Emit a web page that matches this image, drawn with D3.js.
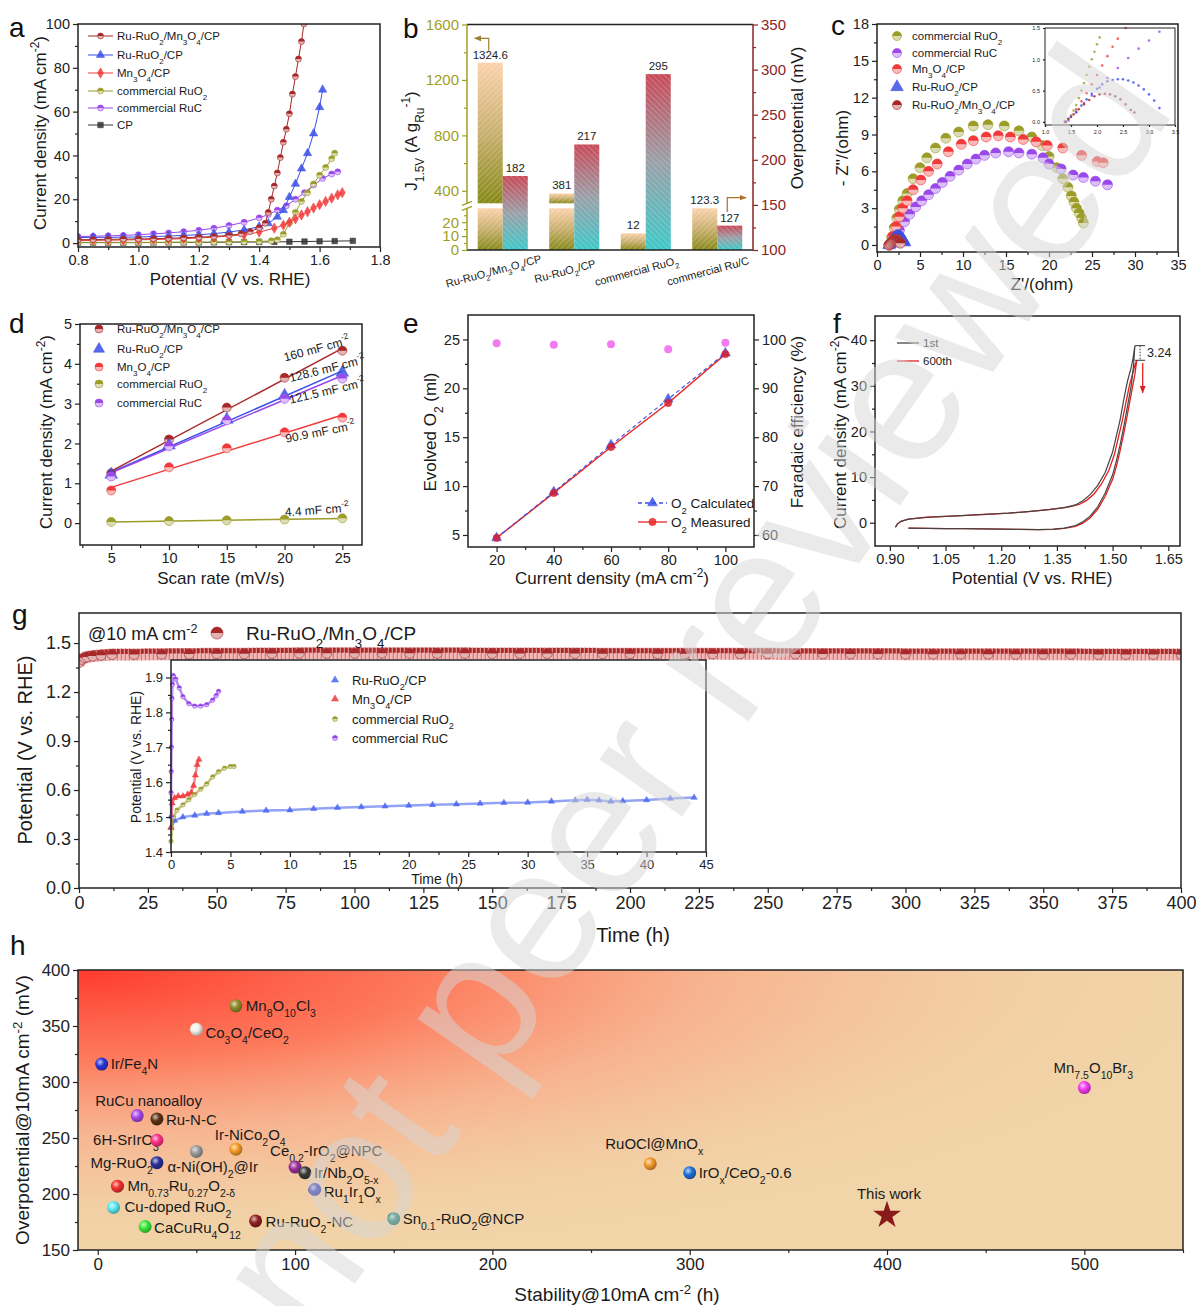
<!DOCTYPE html>
<html>
<head>
<meta charset="utf-8">
<script src="https://cdn.jsdelivr.net/npm/d3@7"></script>
<style>
  body { margin: 0; background: #fff; }
  svg { display: block; font-family: "Liberation Sans", Arial, sans-serif; }
</style>
</head>
<body>
<svg id="fig" width="1198" height="1306"></svg>
<script>
// ---------- (a) LSV curves ----------
const lsvNames = ['Ru-RuO_{2}/Mn_{3}O_{4}/CP', 'Ru-RuO_{2}/CP', 'Mn_{3}O_{4}/CP', 'commercial RuO_{2}', 'commercial RuC', 'CP'];
const lsvRuMn = [[0.80,1.5],[0.85,1.6],[0.90,1.7],[0.95,1.8],[1.00,1.9],[1.05,2.0],[1.10,2.2],[1.15,2.4],[1.20,2.7],[1.25,3.0],[1.30,3.5],[1.34,4.2],[1.37,5.2],[1.40,7.0],[1.42,9],[1.43,14],[1.44,20],[1.45,26],[1.46,32],[1.47,39],[1.48,46],[1.49,52],[1.50,59],[1.51,68],[1.52,76],[1.53,84],[1.54,92],[1.548,100]];
const lsvRu = [[0.80,2.5],[0.85,2.6],[0.90,2.6],[0.95,2.7],[1.00,2.8],[1.05,3.0],[1.10,3.2],[1.15,3.5],[1.20,3.8],[1.25,4.3],[1.30,5.0],[1.35,6.0],[1.40,7.5],[1.43,9],[1.46,12],[1.48,15],[1.50,21],[1.52,27],[1.54,34],[1.56,41],[1.58,50],[1.60,62],[1.61,70]];
const lsvMn = [[0.80,1.2],[0.85,1.2],[0.90,1.3],[0.95,1.4],[1.00,1.5],[1.05,1.6],[1.10,1.8],[1.15,2.0],[1.20,2.3],[1.25,2.7],[1.30,3.2],[1.35,3.8],[1.40,5.0],[1.45,6.8],[1.48,8.2],[1.50,9.5],[1.52,11],[1.54,12.8],[1.56,14.3],[1.58,16],[1.60,17.5],[1.62,19],[1.64,20.5],[1.66,22],[1.675,23]];
const lsvRuO2 = [[0.80,0.3],[0.85,0.3],[0.90,0.3],[0.95,0.3],[1.00,0.3],[1.05,0.3],[1.10,0.35],[1.15,0.4],[1.20,0.4],[1.25,0.45],[1.30,0.5],[1.35,0.6],[1.40,0.7],[1.44,1.0],[1.46,1.5],[1.48,4],[1.50,9],[1.52,14],[1.54,19],[1.56,23],[1.58,27],[1.60,31],[1.62,34.5],[1.64,38.5],[1.65,41]];
const lsvRuC = [[0.80,3.0],[0.85,3.1],[0.90,3.3],[0.95,3.5],[1.00,3.8],[1.05,4.2],[1.10,4.6],[1.15,5.2],[1.20,5.8],[1.25,6.8],[1.30,8.0],[1.35,9.5],[1.40,11.5],[1.43,13],[1.46,15],[1.49,17],[1.52,20],[1.55,23],[1.58,26.5],[1.61,29.5],[1.64,31.5],[1.66,32.5]];
const lsvCP = [[0.80,0.2],[0.85,0.2],[0.90,0.2],[0.95,0.2],[1.00,0.2],[1.05,0.25],[1.10,0.3],[1.15,0.3],[1.20,0.3],[1.25,0.35],[1.30,0.4],[1.35,0.45],[1.40,0.5],[1.45,0.55],[1.50,0.6],[1.55,0.7],[1.60,0.8],[1.65,0.9],[1.71,1.0]];

// ---------- (b) mass activity / overpotential ----------
const catNames = ['Ru-RuO_{2}/Mn_{3}O_{4}/CP', 'Ru-RuO_{2}/CP', 'commercial RuO_{2}', 'commercial Ru/C'];
const massAct = [1324.6, 381, 12, 123.3];
const overPot = [182, 217, 295, 127];

// ---------- (c) Nyquist ----------
const eisNames = ['commercial RuO_{2}', 'commercial RuC', 'Mn_{3}O_{4}/CP', 'Ru-RuO_{2}/CP', 'Ru-RuO_{2}/Mn_{3}O_{4}/CP'];
const eisRuO2 = [[1.4,0],[1.7,0.6],[2.0,1.4],[2.3,2.2],[2.6,2.9],[3.0,3.6],[3.5,4.2],[4.2,5.4],[5.0,6.3],[5.8,7.1],[6.8,7.9],[8.0,8.7],[9.5,9.2],[11.2,9.7],[12.9,9.8],[14.8,9.7],[16.5,9.3],[18.0,8.8],[19.2,8.1],[20.0,7.2],[20.9,6.3],[21.6,5.4],[22.2,4.7],[22.6,4.0],[22.9,3.5],[23.2,3.0],[23.5,2.6],[23.8,2.2],[24.0,1.8]];
const eisRuC = [[1.5,0],[2.0,0.5],[2.6,1.2],[3.2,1.9],[3.8,2.5],[4.5,3.1],[5.2,3.6],[6.0,4.1],[6.8,4.6],[7.6,5.1],[8.5,5.6],[9.5,6.1],[10.5,6.6],[11.5,7.0],[12.5,7.3],[13.8,7.5],[15.3,7.6],[16.5,7.5],[18.0,7.4],[19.3,7.1],[20.0,6.6],[21.4,6.2],[22.8,5.7],[24.0,5.5],[25.4,5.2],[26.8,4.9]];
const eisMn = [[1.4,0],[1.8,0.7],[2.2,1.5],[2.6,2.3],[3.0,3.0],[3.5,3.6],[4.2,4.5],[5.1,5.3],[6.0,6.0],[7.0,6.6],[8.3,7.6],[9.8,8.2],[11.2,8.5],[12.7,8.8],[14.1,8.9],[15.5,8.8],[17.0,8.6],[18.5,8.4],[19.8,8.1],[21.6,7.9],[23.8,7.3],[25.6,6.8],[26.3,6.7]];
const eisRu = [[1.4,0],[1.5,0.08],[1.6,0.16],[1.7,0.26],[1.8,0.36],[1.9,0.45],[2.0,0.53],[2.1,0.6],[2.2,0.65],[2.3,0.67],[2.4,0.68],[2.5,0.68],[2.6,0.66],[2.7,0.63],[2.8,0.58],[2.9,0.52],[3.0,0.44],[3.1,0.34],[3.2,0.22]];
const eisRuMn = [[1.38,0],[1.45,0.05],[1.55,0.12],[1.65,0.2],[1.75,0.28],[1.85,0.35],[1.95,0.41],[2.05,0.44],[2.15,0.45],[2.25,0.44],[2.35,0.41],[2.45,0.36],[2.55,0.28],[2.65,0.19],[2.72,0.15]];
const insetRuO2 = [[1.4,0],[1.45,0.05],[1.5,0.1],[1.55,0.18],[1.6,0.27],[1.65,0.38],[1.7,0.5],[1.75,0.62],[1.8,0.75],[1.85,0.88],[1.9,1.0],[1.95,1.12],[2.0,1.24],[2.05,1.35]];
const insetMn = [[1.4,0],[1.5,0.08],[1.6,0.2],[1.7,0.33],[1.8,0.46],[1.9,0.6],[2.0,0.75],[2.1,0.9],[2.2,1.05],[2.3,1.2],[2.4,1.33],[2.55,1.5]];
const insetRuC = [[1.45,0.02],[1.6,0.15],[1.75,0.3],[1.9,0.42],[2.05,0.55],[2.2,0.7],[2.4,0.86],[2.6,1.02],[2.8,1.17],[3.0,1.3],[3.2,1.44]];

// ---------- (d) double-layer capacitance ----------
const cdlNames = ['Ru-RuO_{2}/Mn_{3}O_{4}/CP', 'Ru-RuO_{2}/CP', 'Mn_{3}O_{4}/CP', 'commercial RuO_{2}', 'commercial RuC'];
const scanRate = [5, 10, 15, 20, 25];
const cdlRuMn = [1.25, 2.1, 2.9, 3.65, 4.33];
const cdlRu = [1.22, 1.95, 2.6, 3.2, 3.78];
const cdlMn = [0.82, 1.4, 1.88, 2.28, 2.65];
const cdlRuO2 = [0.03, 0.05, 0.07, 0.09, 0.12];
const cdlRuC = [1.17, 1.93, 2.58, 3.12, 3.63];
const cdlLabels = ['160 mF cm^{-2}', '128.6 mF cm^{-2}', '121.5 mF cm^{-2}', '90.9 mF cm^{-2}', '4.4 mF cm^{-2}'];

// ---------- (e) O2 evolution ----------
const feCurrent = [20, 40, 60, 80, 100];
const o2Calc = [4.7, 9.4, 14.2, 18.9, 23.6];
const o2Meas = [4.7, 9.3, 14.0, 18.5, 23.5];
const faradaic = [99.2, 98.9, 99.0, 98.0, 99.3];

// ---------- (f) CV, 1st vs 600th ----------
const cv1st = [[0.95,-1.2],[1.00,-1.25],[1.05,-1.3],[1.10,-1.3],[1.15,-1.35],[1.20,-1.4],[1.25,-1.45],[1.30,-1.5],[1.34,-1.4],[1.37,-1.2],[1.40,-0.6],[1.42,0.2],[1.44,1.5],[1.46,3.5],[1.48,6.5],[1.50,10.5],[1.51,13.5],[1.52,17],[1.53,21],[1.54,25.5],[1.55,30],[1.556,34],[1.560,38.8],[1.555,36],[1.55,34],[1.54,31],[1.53,27],[1.52,22.5],[1.51,19],[1.50,15.5],[1.48,11],[1.46,8.2],[1.44,6.2],[1.42,4.8],[1.40,3.9],[1.37,3.3],[1.33,2.9],[1.28,2.5],[1.22,2.1],[1.15,1.8],[1.08,1.5],[1.00,1.2],[0.95,0.8],[0.93,0.3],[0.92,-0.3],[0.915,-1.0]];
const cv600th = [[0.95,-1.2],[1.00,-1.25],[1.05,-1.3],[1.10,-1.3],[1.15,-1.35],[1.20,-1.4],[1.25,-1.45],[1.30,-1.5],[1.34,-1.45],[1.37,-1.25],[1.40,-0.8],[1.42,-0.1],[1.44,1.1],[1.46,3.0],[1.48,5.8],[1.50,9.5],[1.51,12.3],[1.52,15.7],[1.53,19.5],[1.54,23.8],[1.55,28.2],[1.56,32.5],[1.565,35.6],[1.56,34.5],[1.555,33],[1.545,30],[1.535,26],[1.525,22],[1.515,18.5],[1.505,15],[1.49,11.5],[1.47,8.5],[1.45,6.3],[1.43,4.9],[1.41,4.0],[1.38,3.4],[1.33,2.9],[1.28,2.5],[1.22,2.1],[1.15,1.8],[1.08,1.5],[1.00,1.2],[0.95,0.8],[0.93,0.3],[0.92,-0.3],[0.915,-1.0]];

// ---------- (g) chronopotentiometry ----------
const stabMain = [[0,1.38],[1,1.40],[2,1.41],[3,1.415],[5,1.42],[8,1.425],[12,1.43],[20,1.43],[30,1.432],[40,1.433],[50,1.435],[60,1.435],[70,1.436],[80,1.437],[90,1.437],[100,1.438],[110,1.438],[120,1.437],[130,1.437],[140,1.437],[150,1.436],[160,1.436],[170,1.436],[180,1.436],[190,1.435],[200,1.435],[210,1.435],[220,1.434],[230,1.434],[240,1.434],[250,1.434],[260,1.433],[270,1.433],[280,1.433],[290,1.433],[300,1.432],[310,1.432],[320,1.432],[330,1.432],[340,1.431],[350,1.431],[360,1.431],[370,1.43],[380,1.43],[390,1.43],[400,1.43]];
const stabInsetNames = ['Ru-RuO_{2}/CP', 'Mn_{3}O_{4}/CP', 'commercial RuO_{2}', 'commercial RuC'];
const stabRu = [[0,1.47],[0.3,1.49],[1,1.50],[2,1.505],[3,1.51],[4,1.512],[6,1.516],[8,1.519],[10,1.52],[12,1.524],[14,1.527],[16,1.529],[18,1.531],[20,1.533],[22,1.535],[24,1.537],[26,1.539],[28,1.541],[30,1.542],[32,1.545],[34,1.548],[35,1.55],[36,1.548],[37,1.545],[38,1.546],[40,1.549],[42,1.553],[44,1.556]];
const stabMn = [[0,1.47],[0.1,1.54],[0.3,1.555],[0.6,1.56],[1.0,1.56],[1.4,1.565],[1.7,1.57],[1.9,1.59],[2.05,1.62],[2.2,1.65],[2.35,1.665]];
const stabRuO2 = [[0,1.43],[0.2,1.5],[0.5,1.52],[1,1.535],[1.5,1.55],[2,1.565],[2.5,1.58],[3,1.595],[3.5,1.615],[4,1.63],[4.5,1.64],[5,1.645],[5.3,1.645]];
const stabRuC = [[0,1.5],[0,1.57],[0.02,1.63],[0.04,1.70],[0.06,1.78],[0.08,1.84],[0.12,1.88],[0.2,1.905],[0.4,1.895],[0.7,1.87],[1,1.845],[1.5,1.825],[2,1.818],[2.5,1.818],[3,1.822],[3.5,1.835],[3.8,1.848],[4,1.86]];

// ---------- (h) comparison ----------
const hNames = ['Mn_{8}O_{10}Cl_{3}', 'Co_{3}O_{4}/CeO_{2}', 'Ir/Fe_{4}N', 'RuCu nanoalloy', 'Ru-N-C', '6H-SrIrO_{3}', 'α-Ni(OH)_{2}@Ir', 'Ir-NiCo_{2}O_{4}', 'Mg-RuO_{2}', 'Ce_{0.2}-IrO_{2}@NPC', 'Ir/Nb_{2}O_{5-x}', 'Mn_{0.73}Ru_{0.27}O_{2-δ}', 'Ru_{1}Ir_{1}O_{x}', 'Cu-doped RuO_{2}', 'CaCuRu_{4}O_{12}', 'Ru-RuO_{2}-NC', 'Sn_{0.1}-RuO_{2}@NCP', 'RuOCl@MnO_{x}', 'IrO_{x}/CeO_{2}-0.6', 'Mn_{7.5}O_{10}Br_{3}'];
const hStability = [70, 50, 2, 20, 30, 30, 50, 70, 30, 100, 105, 10, 110, 8, 24, 80, 150, 280, 300, 500];
const hOverpot = [368, 347, 316, 270, 267, 248, 238, 240, 228, 224, 219, 207, 204, 188, 171, 176, 178, 227, 219, 295];
const thisWork = [400, 181];

// ---------- styles ----------
const C = { darkred: '#a8282a', blue: '#3a4fe6', red: '#f23a3a', olive: '#9c9c28', purple: '#9a48ea', black: '#333' };
const hColors = ['#8f8a2a', '#f4f0e8', '#2a36d8', '#a848e8', '#5a3312', '#ff2f86', '#9a9a9a', '#f59a22', '#2a2f9a', '#9a2f9a', '#3a3a3a', '#f2302e', '#2a30b8', '#5ae8f0', '#38e838', '#8f2020', '#14806a', '#f0982a', '#1f6fd8', '#f23af0'];
const hLabelPos = [[10,5,'start'],[9,9,'start'],[9,5,'start'],[-42,-10,'start'],[9,6,'start'],[2,5,'end'],[-29,21,'start'],[-21,-9,'start'],[-4,5,'end'],[-25,-11,'start'],[9,5,'start'],[10,5,'start'],[9,7,'start'],[11,5,'start'],[9,7,'start'],[10,6,'start'],[9,5,'start'],[-45,-15,'start'],[9,5,'start'],[9,-15,'middle']];

const FONT_TICK = 14.5, FONT_TITLE = 17;
const plain = d => d;
const svg = d3.select('#fig');
const defs = svg.append('defs');

// text with _{sub} and ^{sup}
function rich(text, str) {
  const re = /([_^])\{([^}]*)\}/g;
  let last = 0, m;
  while ((m = re.exec(str)) !== null) {
    if (m.index > last) text.append('tspan').text(str.slice(last, m.index));
    text.append('tspan').attr('baseline-shift', m[1] === '_' ? 'sub' : 'super')
      .attr('font-size', '70%').text(m[2]);
    last = re.lastIndex;
  }
  if (last < str.length) text.append('tspan').text(str.slice(last));
  return text;
}

function label(g, x, y, str, o = {}) {
  const t = g.append('text').attr('x', x).attr('y', y)
    .attr('font-size', o.size || FONT_TITLE)
    .attr('text-anchor', o.anchor || 'start')
    .attr('fill', o.color || '#1a1a1a');
  if (o.rotate) t.attr('transform', `rotate(${o.rotate},${x},${y})`);
  if (o.baseline) t.attr('dominant-baseline', o.baseline);
  return rich(t, str);
}

function drawAxis(g, axis, transform, fs, color) {
  const a = g.append('g').attr('transform', transform).call(axis);
  a.attr('font-family', null).attr('font-size', fs);
  a.select('.domain').remove();
  a.selectAll('line').attr('stroke', color || '#222').attr('stroke-width', 1.2);
  a.selectAll('text').attr('fill', color || '#222');
  return a;
}

function axesXY(g, x, y, o) {
  const [xl, xr] = x.range(), [yb, yt] = y.range();
  const fs = o.fs || FONT_TICK, ts = o.ts || 5;
  drawAxis(g, d3.axisBottom(x).tickValues(o.xt).tickFormat(o.xf || plain).tickSize(ts).tickPadding(3), `translate(0,${yb})`, fs);
  if (o.xm) drawAxis(g, d3.axisBottom(x).tickValues(o.xm).tickFormat('').tickSize(ts * 0.6), `translate(0,${yb})`, fs);
  drawAxis(g, d3.axisLeft(y).tickValues(o.yt).tickFormat(o.yf || plain).tickSize(ts).tickPadding(3), `translate(${xl},0)`, fs);
  if (o.ym) drawAxis(g, d3.axisLeft(y).tickValues(o.ym).tickFormat('').tickSize(ts * 0.6), `translate(${xl},0)`, fs);
  g.append('rect').attr('x', xl).attr('y', yt).attr('width', xr - xl).attr('height', yb - yt)
    .attr('fill', 'none').attr('stroke', '#222').attr('stroke-width', o.sw || 1.5);
}

function clip(id, x, y) {
  defs.append('clipPath').attr('id', id).append('rect')
    .attr('x', x.range()[0]).attr('y', y.range()[1])
    .attr('width', x.range()[1] - x.range()[0]).attr('height', y.range()[0] - y.range()[1]);
}

function marker(g, kind, cx, cy, r, col) {
  const light = d3.interpolateRgb(col, '#fff')(0.65);
  if (kind === 'half') {
    g.append('circle').attr('cx', cx).attr('cy', cy).attr('r', r)
      .attr('fill', light).attr('stroke', col).attr('stroke-width', 0.6);
    g.append('path').attr('d', `M${cx - r},${cy}A${r},${r} 0 0 1 ${cx + r},${cy}Z`).attr('fill', col);
  } else {
    const sym = { tri: d3.symbolTriangle, diamond: d3.symbolDiamond, square: d3.symbolSquare, circle: d3.symbolCircle }[kind];
    g.append('path').attr('transform', `translate(${cx},${cy})`)
      .attr('d', d3.symbol(sym, r * r * 3.4)())
      .attr('fill', col).attr('fill-opacity', 0.85).attr('stroke', col).attr('stroke-width', 0.5);
  }
}

const lineOf = (x, y) => d3.line().x(d => x(d[0])).y(d => y(d[1]));

function arrowDef(id, col) {
  defs.append('marker').attr('id', id).attr('viewBox', '0 0 10 10').attr('refX', 9).attr('refY', 5)
    .attr('markerWidth', 6).attr('markerHeight', 6).attr('orient', 'auto')
    .append('path').attr('d', 'M0,1L10,5L0,9Z').attr('fill', col);
}
arrowDef('arrOl', '#a08030');
arrowDef('arrBr', '#b0702a');
arrowDef('arrRed', '#e02020');

function panelLetter(x, y, s) {
  svg.append('text').attr('x', x).attr('y', y).attr('font-size', 28).attr('fill', '#111').text(s);
}

// ================= (a) =================
{
  const g = svg.append('g');
  const x = d3.scaleLinear([0.8, 1.8], [78, 380]);
  const y = d3.scaleLinear([-1.8, 100], [247, 24]);
  clip('clipA', x, y);
  const series = [lsvRuMn, lsvRu, lsvMn, lsvRuO2, lsvRuC, lsvCP];
  const cols = [C.darkred, C.blue, C.red, C.olive, C.purple, C.black];
  const kinds = ['half', 'tri', 'diamond', 'half', 'half', 'square'];
  const p = g.append('g').attr('clip-path', 'url(#clipA)');
  for (let i = series.length - 1; i >= 0; i--) {
    p.append('path').attr('d', lineOf(x, y)(series[i])).attr('fill', 'none')
      .attr('stroke', cols[i]).attr('stroke-width', 1);
    series[i].forEach(d => marker(p, kinds[i], x(d[0]), y(d[1]), 3, cols[i]));
  }
  axesXY(g, x, y, {
    xt: d3.range(0.8, 1.81, 0.2), xf: d3.format('.1f'), xm: d3.range(0.9, 1.8, 0.2),
    yt: [0, 20, 40, 60, 80, 100], ym: [10, 30, 50, 70, 90]
  });
  const rows = [36, 55, 73, 91, 108, 125];
  lsvNames.forEach((n, i) => {
    g.append('line').attr('x1', 88).attr('x2', 113).attr('y1', rows[i]).attr('y2', rows[i])
      .attr('stroke', cols[i]).attr('stroke-width', 1);
    marker(g, kinds[i], 100.5, rows[i], 3, cols[i]);
    label(g, 117, rows[i] + 4, n, { size: 11.5 });
  });
  label(g, 230, 285, 'Potential (V vs. RHE)', { anchor: 'middle' });
  label(g, 46, 133, 'Current density (mA cm^{-2})', { anchor: 'middle', rotate: -90 });
  panelLetter(9, 37, 'a');
}

// ================= (b) =================
{
  const g = svg.append('g');
  const x = d3.scaleBand().domain(catNames).range([467, 753]).paddingInner(0.3).paddingOuter(0.15);
  const yLow = d3.scaleLinear([0, 30], [250, 208.3]);
  const yUp = d3.scaleLinear([310, 1600], [203.3, 24.5]);
  const yR = d3.scaleLinear([100, 350], [250, 24.5]);
  const bw = x.bandwidth();
  const olive = '#a0a024', wine = '#8b2424';

  const gl = defs.append('linearGradient').attr('id', 'gradL').attr('x1', 0).attr('y1', 0).attr('x2', 0).attr('y2', 1);
  gl.append('stop').attr('offset', 0).attr('stop-color', '#fcd2ac');
  gl.append('stop').attr('offset', 0.5).attr('stop-color', '#c9b070');
  gl.append('stop').attr('offset', 1).attr('stop-color', '#878918');
  const gr = defs.append('linearGradient').attr('id', 'gradR').attr('x1', 0).attr('y1', 0).attr('x2', 0).attr('y2', 1);
  gr.append('stop').attr('offset', 0).attr('stop-color', '#c84a58');
  gr.append('stop').attr('offset', 0.5).attr('stop-color', '#9aa0a8');
  gr.append('stop').attr('offset', 1).attr('stop-color', '#3ec8c8');
  [['hatchL', 45], ['hatchR', -45]].forEach(([id, ang]) => {
    const p = defs.append('pattern').attr('id', id).attr('patternUnits', 'userSpaceOnUse')
      .attr('width', 4).attr('height', 4).attr('patternTransform', `rotate(${ang})`);
    p.append('line').attr('x1', 0).attr('y1', 0).attr('x2', 0).attr('y2', 4)
      .attr('stroke', '#fff').attr('stroke-opacity', 0.35).attr('stroke-width', 1.2);
  });
  function bar(x0, y0, y1, grad, hatch) {
    [grad, hatch].forEach(f => g.append('rect').attr('x', x0).attr('y', y0)
      .attr('width', bw / 2).attr('height', y1 - y0).attr('fill', `url(#${f})`));
  }
  catNames.forEach((c, i) => {
    const v = massAct[i];
    bar(x(c), yLow(Math.min(v, 30)), yLow(0), 'gradL', 'hatchL');
    if (v > 310) bar(x(c), yUp(v), yUp(310), 'gradL', 'hatchL');
    const top = v > 310 ? yUp(v) : yLow(Math.min(v, 30));
    g.append('text').attr('x', x(c) + bw / 4).attr('y', top - 4).attr('text-anchor', 'middle')
      .attr('font-size', 11.5).attr('fill', '#222').text(v);
    bar(x(c) + bw / 2, yR(overPot[i]), yR(100), 'gradR', 'hatchR');
    g.append('text').attr('x', x(c) + bw * 0.75).attr('y', yR(overPot[i]) - 4).attr('text-anchor', 'middle')
      .attr('font-size', 11.5).attr('fill', '#222').text(overPot[i]);
    const tx = x(c) + bw / 2 - 9, ty = 272;
    label(g, tx, ty, c, { size: 11, anchor: 'middle', rotate: -15, baseline: 'middle' });
  });
  // axes
  drawAxis(g, d3.axisLeft(yLow).tickValues([0, 10, 20]).tickFormat(plain).tickSize(5).tickPadding(3), 'translate(467,0)', 15, olive);
  drawAxis(g, d3.axisLeft(yLow).tickValues([5, 15, 25]).tickFormat('').tickSize(3), 'translate(467,0)', 15, olive);
  drawAxis(g, d3.axisLeft(yUp).tickValues([400, 800, 1200, 1600]).tickFormat(plain).tickSize(5).tickPadding(3), 'translate(467,0)', 15, olive);
  drawAxis(g, d3.axisLeft(yUp).tickValues([600, 1000, 1400]).tickFormat('').tickSize(3), 'translate(467,0)', 15, olive);
  drawAxis(g, d3.axisRight(yR).tickValues(d3.range(100, 351, 50)).tickFormat(plain).tickSize(5).tickPadding(3), 'translate(753,0)', 15, wine);
  drawAxis(g, d3.axisRight(yR).tickValues(d3.range(125, 350, 50)).tickFormat('').tickSize(3), 'translate(753,0)', 15, wine);
  const [xl, xr] = x.range();
  g.append('line').attr('x1', xl).attr('x2', xr).attr('y1', yUp(1600)).attr('y2', yUp(1600)).attr('stroke', '#222').attr('stroke-width', 1.5);
  g.append('line').attr('x1', xl).attr('x2', xr).attr('y1', yLow(0)).attr('y2', yLow(0)).attr('stroke', '#222').attr('stroke-width', 1.5);
  g.append('line').attr('x1', xr).attr('x2', xr).attr('y1', yR(350)).attr('y2', yR(100)).attr('stroke', wine).attr('stroke-width', 1.5);
  g.append('line').attr('x1', xl).attr('x2', xl).attr('y1', yUp(1600)).attr('y2', yUp(310)).attr('stroke', olive).attr('stroke-width', 1.5);
  g.append('line').attr('x1', xl).attr('x2', xl).attr('y1', yLow(30)).attr('y2', yLow(0)).attr('stroke', olive).attr('stroke-width', 1.5);
  [yUp(310), yLow(30)].forEach(yy => g.append('line').attr('x1', xl - 5).attr('x2', xl + 5)
    .attr('y1', yy + 2).attr('y2', yy - 2).attr('stroke', olive).attr('stroke-width', 1.3));
  // pointer arrows
  const ax = x(catNames[0]) + bw * 0.22;
  g.append('path').attr('d', `M${ax},${yUp(1410)}L${ax},${yUp(1500)}L${x(catNames[0]) - 3},${yUp(1500)}`)
    .attr('fill', 'none').attr('stroke', '#a08030').attr('stroke-width', 1.2).attr('marker-end', 'url(#arrOl)');
  const bx = x(catNames[3]) + bw * 0.7;
  g.append('path').attr('d', `M${bx},${yR(142)}L${bx},${yR(158)}L${xr - 7},${yR(158)}`)
    .attr('fill', 'none').attr('stroke', '#b0702a').attr('stroke-width', 1.2).attr('marker-end', 'url(#arrBr)');
  label(g, 417, 141, 'J_{1.5V} (A g_{Ru}^{-1})', { anchor: 'middle', rotate: -90 });
  label(g, 803, 118, 'Overpotential (mV)', { anchor: 'middle', rotate: -90 });
  panelLetter(403, 38, 'b');
}

// ================= (c) =================
{
  const g = svg.append('g');
  const x = d3.scaleLinear([0, 35], [877, 1178]);
  const y = d3.scaleLinear([-0.57, 18], [252, 24]);
  const series = [eisRuO2, eisRuC, eisMn, eisRu, eisRuMn];
  const cols = [C.olive, C.purple, C.red, C.blue, C.darkred];
  const kinds = ['half', 'half', 'half', 'tri', 'half'];
  series.forEach((s, i) => s.forEach(d => marker(g, kinds[i], x(d[0]), y(d[1]), i === 3 ? 4.5 : 5, cols[i])));
  axesXY(g, x, y, {
    xt: d3.range(0, 36, 5), xm: d3.range(2.5, 35, 5),
    yt: d3.range(0, 19, 3), ym: d3.range(1.5, 18, 3)
  });
  const rows = [36, 53, 69, 87, 105];
  eisNames.forEach((n, i) => {
    marker(g, kinds[i], 897, rows[i], 4.5, cols[i]);
    label(g, 912, rows[i] + 4, n, { size: 11.5 });
  });
  // inset
  const xi = d3.scaleLinear([1.0, 3.5], [1045, 1175]);
  const yi = d3.scaleLinear([-0.05, 1.5], [125, 28]);
  g.append('rect').attr('x', 1045).attr('y', 28).attr('width', 130).attr('height', 97).attr('fill', '#fff');
  const insetSeries = [insetRuO2, insetRuC, insetMn, eisRu, eisRuMn];
  insetSeries.forEach((s, i) => s.forEach(d => g.append('circle').attr('cx', xi(d[0])).attr('cy', yi(d[1]))
    .attr('r', 1.3).attr('fill', cols[i]).attr('fill-opacity', 0.8)));
  axesXY(g, xi, yi, {
    fs: 5.5, ts: 2, sw: 1, xt: [1.0, 1.5, 2.0, 2.5, 3.0, 3.5], xf: d3.format('.1f'),
    yt: [0, 0.5, 1.0, 1.5], yf: d3.format('.1f')
  });
  label(g, 1042, 290, "Z'/(ohm)", { anchor: 'middle' });
  label(g, 848, 148, "- Z''/(ohm)", { anchor: 'middle', rotate: -90 });
  panelLetter(831, 35, 'c');
}

// ================= (d) =================
{
  const g = svg.append('g');
  const x = d3.scaleLinear([2.3, 26.7], [80, 362]);
  const y = d3.scaleLinear([-0.55, 5], [545, 324]);
  const series = [cdlRuMn, cdlRu, cdlMn, cdlRuO2, cdlRuC];
  const cols = [C.darkred, C.blue, C.red, C.olive, C.purple];
  const kinds = ['half', 'tri', 'half', 'half', 'half'];
  const labelAt = [[22.8, 4.35, -15], [23.7, 3.85, -14], [23.7, 3.29, -13], [23.1, 2.26, -11], [22.8, 0.3, -4]];
  series.forEach((s, i) => {
    const mx = d3.mean(scanRate), my = d3.mean(s);
    const slope = d3.sum(scanRate, (v, k) => (v - mx) * (s[k] - my)) / d3.sum(scanRate, v => (v - mx) ** 2);
    const b = my - slope * mx;
    g.append('line').attr('x1', x(5)).attr('y1', y(slope * 5 + b)).attr('x2', x(25)).attr('y2', y(slope * 25 + b))
      .attr('stroke', cols[i]).attr('stroke-width', 1.5);
  });
  series.forEach((s, i) => s.forEach((v, k) => marker(g, kinds[i], x(scanRate[k]), y(v), 4.5, cols[i])));
  labelAt.forEach((p, k) => label(g, x(p[0]), y(p[1]), cdlLabels[k], { size: 12, anchor: 'middle', rotate: p[2], baseline: 'middle' }));
  axesXY(g, x, y, {
    xt: scanRate, xm: [2.5, 7.5, 12.5, 17.5, 22.5],
    yt: [0, 1, 2, 3, 4, 5], ym: [0.5, 1.5, 2.5, 3.5, 4.5]
  });
  const rows = [329, 349, 367, 384, 403];
  cdlNames.forEach((n, i) => {
    marker(g, kinds[i], 99, rows[i], 4, cols[i]);
    label(g, 117, rows[i] + 4, n, { size: 11.5 });
  });
  label(g, 221, 584, 'Scan rate (mV/s)', { anchor: 'middle' });
  label(g, 52, 432, 'Current density (mA cm^{-2})', { anchor: 'middle', rotate: -90 });
  panelLetter(9, 333, 'd');
}

// ================= (e) =================
{
  const g = svg.append('g');
  const x = d3.scaleLinear([10, 110], [468, 754]);
  const y = d3.scaleLinear([3.77, 27.5], [547, 315]);
  const yR = d3.scaleLinear([57.54, 105], [547, 315]);
  const calc = feCurrent.map((c, i) => [c, o2Calc[i]]);
  const meas = feCurrent.map((c, i) => [c, o2Meas[i]]);
  g.append('path').attr('d', lineOf(x, y)(meas)).attr('fill', 'none').attr('stroke', '#e82828').attr('stroke-width', 1.5);
  g.append('path').attr('d', lineOf(x, y)(calc)).attr('fill', 'none').attr('stroke', '#3a4fe6').attr('stroke-width', 1.1).attr('stroke-dasharray', '4,3');
  calc.forEach(d => marker(g, 'tri', x(d[0]), y(d[1]), 3.5, '#3a4fe6'));
  meas.forEach(d => marker(g, 'circle', x(d[0]), y(d[1]), 3.5, '#d82030'));
  feCurrent.forEach((c, i) => g.append('circle').attr('cx', x(c)).attr('cy', yR(faradaic[i])).attr('r', 4).attr('fill', '#f07cf0'));
  axesXY(g, x, y, {
    xt: feCurrent, xm: [30, 50, 70, 90],
    yt: [5, 10, 15, 20, 25], ym: [7.5, 12.5, 17.5, 22.5]
  });
  drawAxis(g, d3.axisRight(yR).tickValues([60, 70, 80, 90, 100]).tickFormat(plain).tickSize(5).tickPadding(3), 'translate(754,0)', FONT_TICK);
  drawAxis(g, d3.axisRight(yR).tickValues([65, 75, 85, 95]).tickFormat('').tickSize(3), 'translate(754,0)', FONT_TICK);
  // legend
  [[503, 'O_{2} Calculated', '#3a4fe6', 'tri', '4,3'], [522, 'O_{2} Measured', '#e82828', 'circle', null]].forEach(r => {
    const ln = g.append('line').attr('x1', 638).attr('x2', 667).attr('y1', r[0]).attr('y2', r[0]).attr('stroke', r[2]).attr('stroke-width', 1.3);
    if (r[4]) ln.attr('stroke-dasharray', r[4]);
    marker(g, r[3], 652.5, r[0], 3.5, r[2]);
    label(g, 671, r[0] + 5, r[1], { size: 13.5 });
  });
  label(g, 612, 584, 'Current density (mA cm^{-2})', { anchor: 'middle' });
  label(g, 436, 432, 'Evolved O_{2} (ml)', { anchor: 'middle', rotate: -90 });
  label(g, 803, 422, 'Faradaic efficiency (%)', { anchor: 'middle', rotate: -90 });
  panelLetter(403, 333, 'e');
}

// ================= (f) =================
{
  const g = svg.append('g');
  const x = d3.scaleLinear([0.86, 1.6815], [875, 1180]);
  const y = d3.scaleLinear([-5.1, 45.3], [546, 316]);
  g.append('path').attr('d', lineOf(x, y)(cv600th)).attr('fill', 'none').attr('stroke', '#e02020').attr('stroke-width', 1.3);
  g.append('path').attr('d', lineOf(x, y)(cv1st)).attr('fill', 'none').attr('stroke', '#444').attr('stroke-width', 1.2);
  axesXY(g, x, y, {
    xt: [0.90, 1.05, 1.20, 1.35, 1.50, 1.65], xf: d3.format('.2f'), xm: [0.975, 1.125, 1.275, 1.425, 1.575],
    yt: [0, 10, 20, 30, 40], ym: [5, 15, 25, 35]
  });
  // 3.24 drop marker
  const mx = x(1.574);
  g.append('line').attr('x1', mx).attr('x2', mx).attr('y1', y(38.8)).attr('y2', y(35.6)).attr('stroke', '#333').attr('stroke-dasharray', '1.5,1.5');
  [38.8, 35.6].forEach(v => g.append('line').attr('x1', mx - 5).attr('x2', mx + 5).attr('y1', y(v)).attr('y2', y(v)).attr('stroke', '#333'));
  g.append('text').attr('x', mx + 7).attr('y', y(37.2) + 4).attr('font-size', 12.5).attr('fill', '#222').text('3.24');
  g.append('line').attr('x1', x(1.581)).attr('x2', x(1.581)).attr('y1', y(35)).attr('y2', y(28.5))
    .attr('stroke', '#e02020').attr('stroke-width', 1.3).attr('marker-end', 'url(#arrRed)');
  [[343, '1st', '#444'], [361, '600th', '#e02020']].forEach(r => {
    g.append('line').attr('x1', 897).attr('x2', 919).attr('y1', r[0]).attr('y2', r[0]).attr('stroke', r[2]).attr('stroke-width', 1.3);
    g.append('text').attr('x', 923).attr('y', r[0] + 4).attr('font-size', 11.5).attr('fill', '#222').text(r[1]);
  });
  label(g, 1032, 584, 'Potential (V vs. RHE)', { anchor: 'middle' });
  label(g, 846, 432, 'Current density (mA cm^{-2})', { anchor: 'middle', rotate: -90 });
  panelLetter(833, 333, 'f');
}

// ================= (g) =================
{
  const g = svg.append('g');
  const x = d3.scaleLinear([0, 400], [79, 1181]);
  const y = d3.scaleLinear([0, 1.684], [888, 613]);
  clip('clipG', x, y);
  const p = g.append('g').attr('clip-path', 'url(#clipG)');
  const ln = lineOf(x, y)(stabMain);
  p.append('path').attr('d', ln).attr('fill', 'none').attr('stroke', '#f2b8b8').attr('stroke-width', 12);
  p.append('path').attr('d', ln).attr('fill', 'none').attr('stroke', '#d86a6a').attr('stroke-width', 12).attr('stroke-dasharray', '1,3');
  p.append('path').attr('d', ln).attr('transform', 'translate(0,-3)').attr('fill', 'none').attr('stroke', '#a82828').attr('stroke-width', 5).attr('stroke-dasharray', '3,1');
  stabMain.forEach(d => marker(p, 'half', x(d[0]), y(d[1]), 5, C.darkred));
  axesXY(g, x, y, {
    fs: 18, xt: d3.range(0, 401, 25), xm: d3.range(12.5, 400, 25),
    yt: [0, 0.3, 0.6, 0.9, 1.2, 1.5], yf: d3.format('.1f'), ym: [0.15, 0.45, 0.75, 1.05, 1.35]
  });
  label(g, 88, 640, '@10 mA cm^{-2}', { size: 18 });
  marker(g, 'half', 217, 633, 6, C.darkred);
  label(g, 246, 640, 'Ru-RuO_{2}/Mn_{3}O_{4}/CP', { size: 19 });
  label(g, 633, 942, 'Time (h)', { anchor: 'middle', size: 20 });
  label(g, 32, 750, 'Potential (V vs. RHE)', { anchor: 'middle', rotate: -90, size: 20 });
  panelLetter(12, 624, 'g');

  // inset
  const xi = d3.scaleLinear([0, 45], [171, 706]);
  const yi = d3.scaleLinear([1.4, 1.95], [852, 660]);
  g.append('rect').attr('x', 171).attr('y', 660).attr('width', 535).attr('height', 192).attr('fill', '#fff');
  const series = [stabRu, stabMn, stabRuO2, stabRuC];
  const cols = ['#4a66f0', '#f03a3a', '#9c9c30', '#9040e8'];
  const kinds = ['tri', 'tri', 'half', 'half'];
  series.forEach((s, i) => {
    g.append('path').attr('d', lineOf(xi, yi)(s)).attr('fill', 'none').attr('stroke', cols[i]).attr('stroke-width', 2.5).attr('stroke-opacity', 0.6);
    s.forEach(d => marker(g, kinds[i], xi(d[0]), yi(d[1]), 2.2, cols[i]));
  });
  axesXY(g, xi, yi, {
    fs: 13, xt: d3.range(0, 46, 5), xm: d3.range(2.5, 45, 5),
    yt: [1.4, 1.5, 1.6, 1.7, 1.8, 1.9], yf: d3.format('.1f'), ym: [1.45, 1.55, 1.65, 1.75, 1.85]
  });
  const rows = [680, 699, 719, 738];
  stabInsetNames.forEach((n, i) => {
    marker(g, kinds[i], 335, rows[i], 2.5, cols[i]);
    label(g, 352, rows[i] + 5, n, { size: 13 });
  });
  label(g, 437, 884, 'Time (h)', { anchor: 'middle', size: 14 });
  label(g, 141, 757, 'Potential (V vs. RHE)', { anchor: 'middle', rotate: -90, size: 14 });
}

// ================= (h) =================
{
  const g = svg.append('g');
  const x = d3.scaleLinear([-10, 550], [78, 1183]);
  const y = d3.scaleLinear([150, 400], [1250, 970]);
  const bg = defs.append('radialGradient').attr('id', 'hBg').attr('cx', 0).attr('cy', 0).attr('r', 1.05).attr('fx', 0).attr('fy', 0);
  [[0, '#ff3a2e', 1], [0.3, '#ff6a4e', 0.85], [0.55, '#fc9a7c', 0.55], [0.8, '#f6c09c', 0.3], [1, '#f2d2a6', 0]]
    .forEach(s => bg.append('stop').attr('offset', s[0]).attr('stop-color', s[1]).attr('stop-opacity', s[2]));
  g.append('rect').attr('x', 78).attr('y', 970).attr('width', 1105).attr('height', 280).attr('fill', '#f1d4a8');
  g.append('rect').attr('x', 78).attr('y', 970).attr('width', 1105).attr('height', 280).attr('fill', 'url(#hBg)');
  hColors.forEach((c, i) => {
    const rg = defs.append('radialGradient').attr('id', 'ball' + i).attr('cx', 0.38).attr('cy', 0.35).attr('r', 0.7);
    rg.append('stop').attr('offset', 0).attr('stop-color', d3.interpolateRgb(c, '#fff')(0.7));
    rg.append('stop').attr('offset', 0.45).attr('stop-color', c);
    rg.append('stop').attr('offset', 1).attr('stop-color', d3.interpolateRgb(c, '#000')(0.35));
  });
  hNames.forEach((n, i) => {
    const px = x(hStability[i]), py = y(hOverpot[i]);
    const [dx, dy, anc] = hLabelPos[i];
    label(g, px + dx, py + dy, n, { size: 15, anchor: anc });
  });
  hNames.forEach((n, i) => {
    g.append('circle').attr('cx', x(hStability[i])).attr('cy', y(hOverpot[i])).attr('r', 6.5).attr('fill', `url(#ball${i})`);
  });
  g.append('path').attr('transform', `translate(${x(thisWork[0])},${y(thisWork[1])})`)
    .attr('d', d3.symbol(d3.symbolStar, 240)()).attr('fill', '#8b1a1a');
  label(g, x(thisWork[0]) + 2, y(thisWork[1]) - 16, 'This work', { size: 15, anchor: 'middle' });
  axesXY(g, x, y, {
    fs: 17, xt: [0, 100, 200, 300, 400, 500], xm: [50, 150, 250, 350, 450, 550],
    yt: [150, 200, 250, 300, 350, 400], ym: [175, 225, 275, 325, 375]
  });
  label(g, 617, 1301, 'Stability@10mA cm^{-2} (h)', { anchor: 'middle', size: 19 });
  label(g, 29, 1110, 'Overpotential@10mA cm^{-2} (mV)', { anchor: 'middle', rotate: -90, size: 19 });
  panelLetter(10, 955, 'h');
}

// watermark
svg.append('text').attr('x', 690).attr('y', 690).attr('text-anchor', 'middle').attr('dominant-baseline', 'central')
  .attr('transform', 'rotate(-55,690,690)').attr('font-size', 190)
  .attr('fill', '#d6d6d6').attr('fill-opacity', 0.5).text('not peer reviewed');
</script>
</body>
</html>
